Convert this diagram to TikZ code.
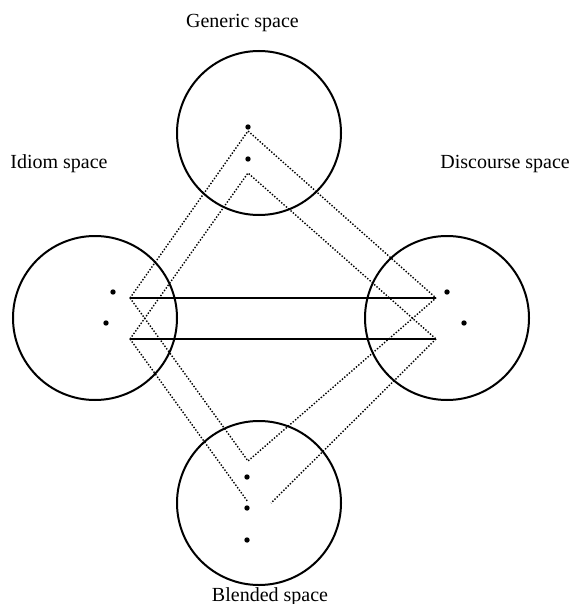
\documentclass[tikz,border=0pt]{standalone}
\usepackage{fontspec}
\setmainfont{Liberation Serif}
\usepackage{tikz}

\begin{document}
\begin{tikzpicture}[x=0.5pt,y=-0.5pt,
    space/.style={draw, circle, line width=1pt, minimum size=82pt, inner sep=0pt},
    link/.style={line width=0.9pt},
    map/.style={line width=0.7pt, dash pattern=on 0.7pt off 0.85pt},
    label/.style={font=\fontsize{10}{12}\selectfont, inner sep=0pt}]

    \useasboundingbox (0,0) rectangle (569,604);

    % the four mental spaces
    \node [space] (G) at (259,133) {};
    \node [space] (I) at (95,318) {};
    \node [space] (D) at (447,318) {};
    \node [space] (B) at (259,503) {};

    \node [label, anchor=base] (Gtxt) at (242.5,28) {Generic space};
    \node [label, anchor=base west] (Itxt) at (10,169) {Idiom space};
    \node [label, anchor=base west] (Dtxt) at (440,169) {Discourse space};
    \node [label, anchor=base] (Btxt) at (270,601) {Blended space};

    % elements inside the spaces
    \foreach \p in {(248,127),(248,159),(113,292),(106,323),
                    (447,292),(464,323),(247,477),(247,508),(247,540)}
        \fill \p circle (1.35pt);

    % ends of the mappings
    \coordinate (G1) at (248,131);
    \coordinate (G2) at (248,173);
    \coordinate (L1) at (130,298);
    \coordinate (L2) at (130,339);
    \coordinate (R1) at (436,298);
    \coordinate (R2) at (436,339);
    \coordinate (B1) at (248,461);
    \coordinate (B2) at (248,502);
    \coordinate (B3) at (271,503);

    % cross-space mappings
    \draw [link] (L1) -- (R1);
    \draw [link] (L2) -- (R2);

    \draw [map] (L1) -- (G1) -- (R1);
    \draw [map] (L2) -- (G2) -- (R2);
    \draw [map] (L1) -- (B1) -- (R1);
    \draw [map] (L2) -- (B2);
    \draw [map] (R2) -- (B3);
\end{tikzpicture}
\end{document}
